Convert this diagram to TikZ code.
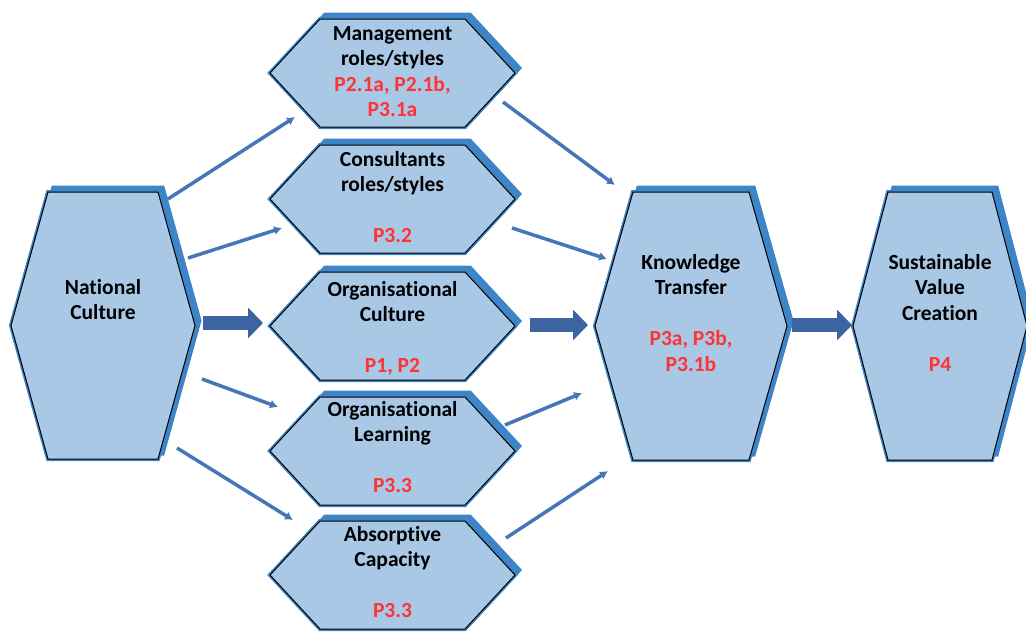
\documentclass[tikz,border=0pt]{standalone}
\usepackage{fontspec}
\setmainfont{Carlito}[Ligatures=NoCommon]
\usetikzlibrary{arrows.meta,calc}
\definecolor{hexfill}{HTML}{A8C8E6}
\definecolor{hexblue}{HTML}{3D85C6}
\definecolor{blockblue}{HTML}{3C64A0}
\definecolor{thinblue}{HTML}{4676B8}
\definecolor{propred}{HTML}{FF3333}
\newcommand\rd[1]{\textcolor{propred}{#1}}
\newcommand\lines[1]{\setlength{\tabcolsep}{0pt}\begin{tabular}[t]{c}#1\end{tabular}}
\newcommand\hexbox[6]{%
  \pgfmathsetmacro\hym{(#4+#5)/2}%
  \pgfmathsetmacro\hxa{#2+#6}%
  \pgfmathsetmacro\hxb{#3-#6}%
  \coordinate (#1-w) at (#2,\hym);
  \coordinate (#1-e) at (#3,\hym);
  \coordinate (#1-nw) at (\hxa,#4);
  \coordinate (#1-ne) at (\hxb,#4);
  \coordinate (#1-sw) at (\hxa,#5);
  \coordinate (#1-se) at (\hxb,#5);
  \begin{scope}[shift={(5,-5)}]
    \fill[hexblue] (#2,\hym) -- (\hxa,#4) -- (\hxb,#4) -- (#3,\hym) -- (\hxb,#5) -- (\hxa,#5) -- cycle;
    \draw[hexblue, line width=3pt, line join=miter] (#2,\hym) -- (\hxa,#4) -- (\hxb,#4) -- (#3,\hym) -- (\hxb,#5) -- (\hxa,#5) -- cycle;
  \end{scope}
  \draw[hexblue, line width=4pt, line join=miter] (#1-w) -- (#1-nw) -- (#1-ne) -- (#1-e) -- (#1-se) -- (#1-sw) -- cycle;
  \fill[hexfill] (#1-w) -- (#1-nw) -- (#1-ne) -- (#1-e) -- (#1-se) -- (#1-sw) -- cycle;
  \draw[black, line width=1pt, line join=miter] (#1-w) -- (#1-nw) -- (#1-ne) -- (#1-e) -- (#1-se) -- (#1-sw) -- cycle;
}
\tikzset{
  txt/.style={anchor=base, inner sep=0pt, font=\fontsize{21.5}{25.5}\selectfont\bfseries, text=black},
  thinarrow/.style={draw=thinblue, line width=3.5pt, -{Latex[length=8pt,width=9pt]}},
  blockarrow/.style={draw=blockblue, line width=14pt, -{Triangle[length=15pt,width=30pt]}}
}
\begin{document}
\begin{tikzpicture}[x=1pt,y=-1pt]
\useasboundingbox (0,0) rectangle (1026,633);
\hexbox{nc}{11}{195}{192}{459}{37}
\hexbox{mg}{270}{515}{19}{127}{50}
\hexbox{cs}{270}{515}{145}{253}{50}
\hexbox{oc}{270}{515}{272}{380}{50}
\hexbox{ol}{270}{515}{397}{505}{50}
\hexbox{ac}{270}{515}{521}{629}{50}
\hexbox{kt}{595}{787}{192}{460}{38}
\hexbox{sv}{853}{1027}{192}{460}{35}

\node[txt] (nct) at (103,294) {\lines{National\\Culture}};
\node[txt] (mgt) at (392.5,40) {\lines{Management\\roles/styles\\\rd{P2.1a, P2.1b,}\\\rd{P3.1a}}};
\node[txt] (cst) at (392.5,166) {\lines{Consultants\\roles/styles\\ \\\rd{P3.2}}};
\node[txt] (oct) at (392.5,296) {\lines{Organisational\\Culture\\ \\\rd{P1, P2}}};
\node[txt] (olt) at (392.5,416) {\lines{Organisational\\Learning\\ \\\rd{P3.3}}};
\node[txt] (act) at (392.5,541) {\lines{Absorptive\\Capacity\\ \\\rd{P3.3}}};
\node[txt] (ktt) at (691,269) {\lines{Knowledge\\Transfer\\ \\\rd{P3a, P3b,}\\\rd{P3.1b}}};
\node[txt] (svt) at (940,269) {\lines{Sustainable\\Value\\Creation\\ \\\rd{P4}}};

\draw[thinarrow] ($(nc-ne)+(10,7)$) -- ($(mg-sw)+(-25,-10)$);
\draw[thinarrow] ($(nc-e)+(-7,-67.5)$) -- ($(cs-sw)+(-38,-25)$);
\draw[thinarrow] ($(nc-e)+(7,53.5)$) -- ($(ol-w)+(8,-44)$);
\draw[thinarrow] ($(nc-se)+(19,-11)$) -- ($(ac-nw)+(-27,-1)$);
\draw[thinarrow] ($(mg-e)+(-12,29)$) -- ($(kt-nw)+(-18,-7)$);
\draw[thinarrow] ($(cs-e)+(-3,29)$) -- ($(kt-w)+(12,-67)$);
\draw[thinarrow] ($(ol-e)+(-10,-26)$) -- ($(kt-w)+(-13,67)$);
\draw[thinarrow] ($(ac-e)+(-9,-37)$) -- ($(kt-sw)+(-25,11)$);

\draw[blockarrow] ($(nc-e)+(8,-2.5)$) -- ($(oc-w)+(-7,-3)$);
\draw[blockarrow] ($(oc-e)+(15,-1)$) -- ($(kt-w)+(-7,-1)$);
\draw[blockarrow] ($(kt-e)+(5,-1)$) -- ($(sv-w)+(-1,-1)$);
\end{tikzpicture}
\end{document}
